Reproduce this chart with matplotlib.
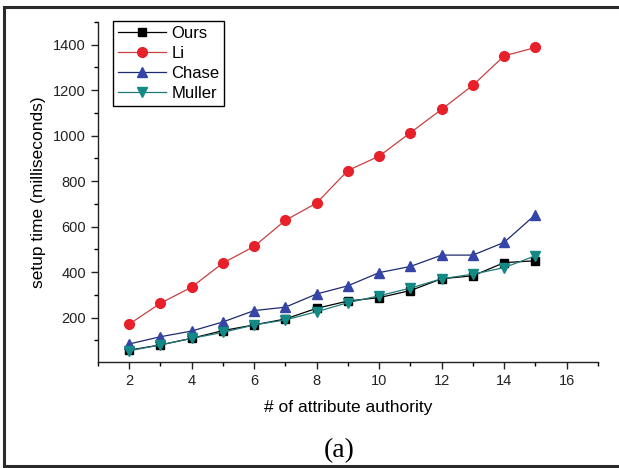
import matplotlib
matplotlib.use('Agg')
from matplotlib import pyplot as plt
from matplotlib.lines import Line2D
from matplotlib.ticker import MultipleLocator

authorities = [2, 3, 4, 5, 6, 7, 8, 9, 10, 11, 12, 13, 14, 15]
ours = [57, 80, 109, 143, 168, 194, 241, 273, 288, 319, 371, 384, 442, 450]
li = [171, 263, 334, 440, 513, 628, 704, 847, 910, 1013, 1116, 1222, 1351, 1388]
chase = [84, 116, 141, 181, 231, 246, 304, 340, 398, 425, 475, 475, 531, 653]
muller = [54, 80, 109, 135, 168, 190, 226, 266, 296, 330, 371, 391, 420, 472]


def createChart():
    plt.rcParams['font.family'] = ['Liberation Sans', 'DejaVu Sans']
    fig = plt.figure(figsize=(6.19, 4.68), dpi=100)
    ax = fig.add_axes([0.158, 0.227, 0.808, 0.726])

    ax.plot(authorities, ours, color='black', marker='s', markersize=5.5, lw=0.9, label='Ours')
    ax.plot(authorities, li, color='#c84040', marker='o', markersize=7,
            markerfacecolor='#e8202a', markeredgecolor='#e8202a', lw=0.9, label='Li')
    ax.plot(authorities, chase, color='#1e2a6e', marker='^', markersize=7.5,
            markerfacecolor='#3444a8', markeredgecolor='#3444a8', lw=0.9, label='Chase')
    ax.plot(authorities, muller, color='#1f7a78', marker='v', markersize=7.5,
            markerfacecolor='#138a86', markeredgecolor='#138a86', lw=0.9, label='Muller')

    ax.set_xlim(1, 17)
    ax.set_ylim(6, 1500)
    ax.xaxis.set_major_locator(MultipleLocator(2))
    ax.xaxis.set_minor_locator(MultipleLocator(1))
    ax.set_yticks([200, 400, 600, 800, 1000, 1200, 1400])
    ax.yaxis.set_minor_locator(MultipleLocator(100))
    ax.tick_params(which='major', direction='out', length=5, width=1, labelsize=10.5, colors='#222222')
    ax.tick_params(which='minor', direction='out', length=3, width=1)
    for s in ['top', 'right']:
        ax.spines[s].set_visible(False)
    for s in ['left', 'bottom']:
        ax.spines[s].set_linewidth(1)
        ax.spines[s].set_color('#222222')

    ax.set_xlabel('# of attribute authority', fontsize=12.5, labelpad=9)
    ax.set_ylabel('setup time (milliseconds)', fontsize=12.5, labelpad=5)

    leg = ax.legend(loc='upper left', bbox_to_anchor=(0.03, 1.004), borderaxespad=0,
                    fontsize=12, handlelength=2.9, handletextpad=0.3, borderpad=0.3,
                    labelspacing=0.3, fancybox=False, framealpha=1)
    leg.get_frame().set_edgecolor('black')
    leg.get_frame().set_linewidth(1)

    fig.text(0.548, 0.037, '(a)', fontsize=20, family='Liberation Serif', ha='center', va='center')

    # frame around the whole figure
    fig.add_artist(Line2D([4 / 619, 1.0], [1 - 7 / 468, 1 - 7 / 468], color='#2a2a2a', lw=2.2))
    fig.add_artist(Line2D([4 / 619, 4 / 619], [1 - 7 / 468, 1 - 466 / 468], color='#2a2a2a', lw=2.2))
    fig.add_artist(Line2D([4 / 619, 1.0], [1 - 466 / 468, 1 - 466 / 468], color='#2a2a2a', lw=2.2))

    fig.savefig('out.png', dpi=100)


if __name__ == '__main__':
    createChart()
